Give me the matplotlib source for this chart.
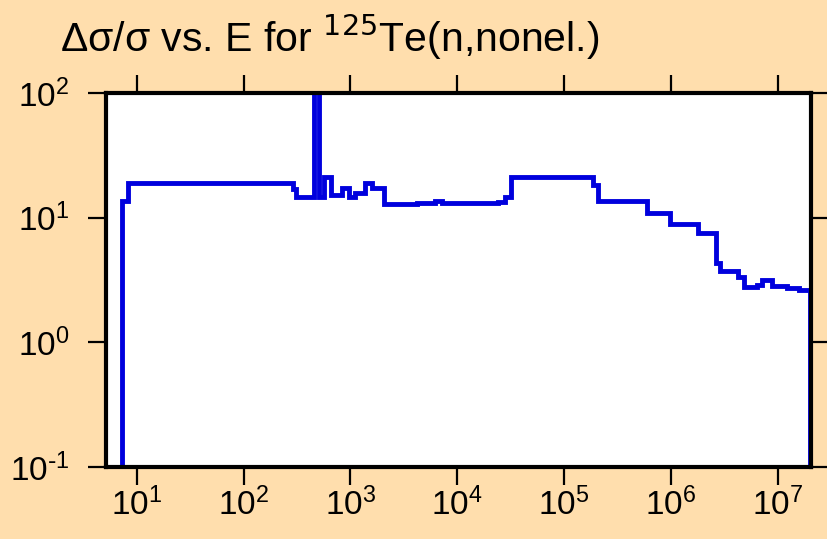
import matplotlib
matplotlib.use("Agg")
import matplotlib.pyplot as plt
import matplotlib.ticker as ticker
import numpy as np

plt.rcParams['font.family'] = ['Liberation Sans', 'DejaVu Sans']
plt.rcParams['axes.unicode_minus'] = False

# --- step data: bin edges (eV) and relative uncertainty in each bin (%) ---
edges = [7.26, 8.36, 292, 308, 459, 508, 566, 653, 827, 977, 1104, 1370,
         1582, 2061, 4170, 6180, 7140, 24200, 27900, 31800, 187000, 208000,
         592000, 977000, 1.80e6, 2.61e6, 2.87e6, 4.25e6, 4.81e6, 6.32e6,
         7.04e6, 8.74e6, 1.21e7, 1.58e7, 2.0e7]
rel_unc = [13.7, 19.1, 17.0, 14.6, 150.0, 14.7, 21.3, 15.1, 17.2, 14.7,
           15.9, 18.9, 17.4, 12.8, 13.0, 13.7, 13.1, 13.3, 14.6, 21.1, 18.3,
           13.6, 10.8, 8.9, 7.5, 4.3, 3.76, 3.37, 2.80, 2.86, 3.16, 2.82,
           2.75, 2.63]

title = "\u0394\u03c3/\u03c3 vs. E for $^{125}$Te(n,nonel.)"
x_ticks = [1e1, 1e2, 1e3, 1e4, 1e5, 1e6, 1e7]
y_ticks = [1e-1, 1e0, 1e1, 1e2]


def pow10_label(v, pos):
    e = int(round(np.log10(v)))
    if e < 0:
        return r'$\mathdefault{10^{\text{-}%d}}$' % (-e)
    return r'$\mathdefault{10^{%d}}$' % e


bg = '#FFDEAD'
fig = plt.figure(figsize=(8.27, 5.39), dpi=100, facecolor=bg)
ax = fig.add_axes([0.1276, 0.1336, 0.8527, 0.6939])
ax.set_facecolor('white')

ax.stairs(rel_unc, edges, baseline=1e-3, color='#0000dd', linewidth=3.5,
          joinstyle='miter')

ax.set_xscale('log')
ax.set_yscale('log')
ax.set_xlim(5.1, 2.03e7)
ax.set_ylim(0.1, 100)
ax.xaxis.set_major_locator(ticker.FixedLocator(x_ticks))
ax.yaxis.set_major_locator(ticker.FixedLocator(y_ticks))
ax.xaxis.set_major_formatter(ticker.FuncFormatter(pow10_label))
ax.yaxis.set_major_formatter(ticker.FuncFormatter(pow10_label))
ax.xaxis.set_minor_locator(ticker.NullLocator())
ax.yaxis.set_minor_locator(ticker.NullLocator())

for s in ax.spines.values():
    s.set_linewidth(3.0)
ax.tick_params(which='major', direction='out', length=13, width=1.6,
               labelsize=24, top=True, right=True, color='black')
ax.tick_params(axis='x', pad=2)
ax.tick_params(axis='y', pad=13)

fig.text(60 / 827, 1 - 52 / 539, title, fontsize=29.5, ha='left',
         va='baseline')

fig.savefig('out.png', dpi=100, facecolor=bg)
